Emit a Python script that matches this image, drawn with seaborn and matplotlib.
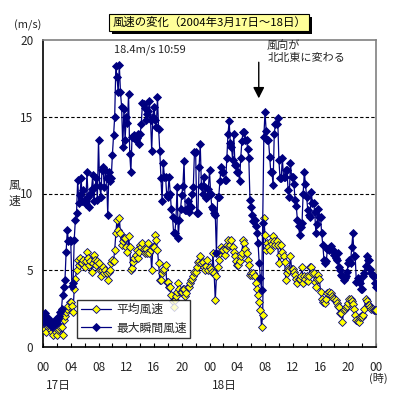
import numpy as np
import pandas as pd
import matplotlib
matplotlib.use("Agg")
import matplotlib.pyplot as plt
from matplotlib.patches import Rectangle
import seaborn as sns

# 10-minute steps from 00:00 on the 17th to 00:00 on the 19th
step_minutes = 10
gust = [
    1.6, 2.0, 2.2, 1.8, 1.9, 1.5,
    1.7, 1.65, 1.3, 1.5, 1.75, 1.6,
    1.55, 1.8, 2.0, 2.3, 2.5, 3.4,
    3.9, 4.35, 6.2, 7.6, 6.9, 7.0,
    6.9, 4.0, 4.15, 7.0, 8.3, 8.7,
    10.9, 9.4, 9.9, 11.0, 9.5, 10.2,
    9.6, 9.3, 11.4, 9.8, 9.1, 10.0,
    10.3, 11.2, 9.5, 10.4, 11.0, 9.6,
    13.5, 10.5, 9.8, 11.5, 11.7, 10.4,
    11.5, 11.0, 8.6, 11.4, 10.8, 11.0,
    12.5, 13.8, 15.0, 18.3, 17.6, 16.6,
    18.4, 16.6, 15.65, 13.0, 15.5, 13.5,
    15.0, 14.6, 16.5, 12.6, 11.4, 13.7,
    13.7, 13.8, 13.5, 13.6, 13.9, 13.2,
    13.9, 14.5, 15.9, 15.8, 15.6, 14.8,
    15.2, 15.4, 16.0, 14.8, 12.8, 15.0,
    15.65, 14.8, 14.35, 16.3, 14.2, 12.8,
    11.0, 9.5, 12.0, 11.1, 11.1, 9.9,
    9.8, 11.1, 10.0, 9.0, 8.5, 7.4,
    7.4, 8.3, 10.45, 7.1, 8.3, 9.0,
    9.9, 10.5, 12.1, 8.9, 8.9, 9.5,
    8.8, 9.2, 9.1, 10.0, 10.45, 12.7,
    12.7, 8.7, 8.7, 11.75, 13.2, 10.5,
    10.0, 11.1, 10.4, 9.7, 9.8, 10.3,
    11.5, 10.0, 9.1, 9.0, 8.7, 8.6,
    6.1, 9.8, 9.8, 10.8, 11.75, 11.4,
    11.4, 10.9, 10.9, 12.3, 13.9, 14.7,
    13.3, 13.05, 12.2, 13.9, 11.85, 11.85,
    11.4, 11.4, 10.8, 12.3, 13.4, 14.0,
    14.0, 13.5, 13.5, 12.9, 12.3, 9.6,
    9.1, 8.6, 8.2, 8.3, 7.9, 7.4,
    6.75, 5.45, 4.5, 3.7, 8.05, 13.7,
    15.3, 14.1, 13.5, 13.5, 12.4, 11.4,
    11.4, 10.55, 13.9, 14.5, 14.5, 14.9,
    12.2, 11.0, 11.0, 12.3, 11.1, 11.1,
    11.5, 11.5, 10.2, 9.8, 12.0, 11.1,
    11.1, 10.65, 9.6, 9.2, 8.3, 7.9,
    7.3, 7.8, 8.05, 10.0, 11.4, 10.6,
    9.8, 8.9, 8.6, 8.5, 10.1, 9.35,
    9.35, 8.8, 7.4, 8.0, 9.0, 8.5,
    8.5, 7.4, 6.65, 5.7, 5.45, 5.6,
    6.4, 6.3, 6.5, 6.6, 6.3, 6.3,
    6.0, 5.8, 5.65, 6.1, 5.2, 5.0,
    4.7, 4.6, 4.35, 4.5, 4.6, 4.9,
    5.45, 5.65, 5.5, 6.5, 7.4, 5.9,
    5.9, 4.25, 4.5, 4.3, 4.15, 3.8,
    3.8, 4.6, 4.8, 5.3, 5.9, 5.65,
    5.65, 5.1, 4.8, 4.6, 4.6, 4.2,
    3.9,
]
mean_speed = [
    1.4, 1.6, 1.2, 1.0, 1.3, 1.5,
    1.3, 1.1, 1.0, 0.8, 1.2, 1.0,
    0.8, 1.1, 1.2, 1.3, 1.3, 0.8,
    1.75, 2.0, 2.3, 2.5, 2.7, 2.95,
    2.95, 2.7, 2.3, 3.8, 4.45, 5.0,
    5.65, 5.35, 5.8, 5.5, 5.45, 5.65,
    5.2, 5.6, 6.2, 5.8, 5.35, 5.6,
    4.9, 5.5, 6.0, 5.7, 5.35, 5.6,
    5.5, 5.0, 4.6, 5.0, 5.2, 4.8,
    5.0, 4.8, 4.35, 4.9, 5.0, 5.45,
    5.65, 5.6, 6.3, 7.4, 8.3, 7.6,
    8.4, 7.4, 6.65, 6.9, 7.1, 7.1,
    6.5, 6.2, 7.2, 6.5, 5.0, 5.15,
    5.55, 5.8, 6.0, 6.3, 5.8, 6.2,
    6.65, 6.5, 6.75, 6.4, 6.1, 6.4,
    6.1, 6.75, 6.1, 6.3, 5.0, 6.5,
    6.5, 7.3, 7.0, 6.3, 5.45, 4.35,
    4.35, 4.8, 5.0, 5.1, 5.35, 4.25,
    4.25, 3.9, 3.9, 3.4, 3.0, 2.6,
    3.05, 3.3, 3.6, 4.15, 3.8, 3.6,
    3.6, 3.8, 3.8, 3.3, 3.5, 3.9,
    3.9, 4.15, 4.35, 4.4, 4.6, 4.9,
    4.9, 5.2, 5.55, 5.6, 5.9, 5.5,
    5.55, 5.2, 5.0, 5.3, 5.65, 5.0,
    5.2, 5.1, 4.9, 6.1, 4.8, 3.05,
    4.6, 5.2, 5.65, 6.1, 6.5, 6.3,
    6.3, 6.0, 6.4, 6.65, 7.0, 6.6,
    6.65, 7.0, 6.5, 6.2, 5.9, 5.6,
    5.35, 5.35, 5.6, 5.9, 6.1, 7.0,
    6.8, 6.4, 6.1, 5.7, 5.35, 4.7,
    4.8, 4.7, 4.8, 4.6, 4.2, 3.8,
    3.4, 2.95, 2.4, 1.3, 2.1, 8.4,
    7.3, 6.3, 6.8, 6.5, 6.3, 6.9,
    6.7, 7.2, 6.9, 6.65, 6.9, 6.65,
    5.45, 6.0, 6.65, 6.2, 5.9, 5.55,
    4.35, 4.8, 5.1, 5.0, 5.9, 5.1,
    5.1, 4.9, 4.7, 4.45, 4.15, 4.45,
    4.45, 4.6, 5.2, 4.15, 4.6, 4.4,
    4.6, 4.3, 4.6, 5.2, 5.2, 4.8,
    4.8, 4.25, 3.9, 4.4, 4.7, 4.45,
    3.6, 3.15, 2.95, 3.0, 2.85, 3.15,
    3.5, 3.6, 3.4, 3.5, 3.3, 3.2,
    3.1, 3.05, 2.85, 2.7, 2.6, 2.2,
    2.2, 1.65, 2.4, 2.5, 2.6, 2.7,
    2.85, 3.15, 3.15, 3.0, 2.8, 2.5,
    2.1, 1.75, 1.7, 1.65, 1.95, 2.0,
    1.95, 2.1, 2.5, 3.15, 3.0, 2.75,
    2.75, 2.6, 2.5, 2.5, 2.4, 2.4,
    2.4,
]
series_names = ["平均風速", "最大瞬間風速"]
tick_labels = ["00", "04", "08", "12", "16", "20", "00", "04", "08", "12", "16", "20", "00"]
day_labels = ["17日", "18日"]
title = "風速の変化（2004年3月17日～18日）"
peak_note = "18.4m/s 10:59"
wind_note = "風向が\n北北東に変わる"

hours = np.arange(len(gust)) * step_minutes / 60.0
df = pd.DataFrame({"hour": hours, "mean": mean_speed, "gust": gust})

sns.set_theme(style="white")
plt.rcParams["font.family"] = ["Noto Sans CJK JP", "DejaVu Sans"]

fig = plt.figure(figsize=(3.99, 3.99), dpi=100)
ax = fig.add_axes([43 / 399, 1 - 347 / 399, (376 - 43) / 399, (347 - 40) / 399])

navy = "#000080"
for y in (5, 10, 15):
    ax.axhline(y, color="black", lw=0.8, ls=(0, (3, 2)), zorder=1)

sns.lineplot(data=df, x="hour", y="mean", ax=ax, color=navy, lw=0.9,
             marker="D", markersize=3.8, markerfacecolor="#FFFF00",
             markeredgecolor=navy, markeredgewidth=0.6, label=series_names[0], zorder=3)
sns.lineplot(data=df, x="hour", y="gust", ax=ax, color=navy, lw=0.9,
             marker="D", markersize=3.8, markerfacecolor=navy,
             markeredgecolor=navy, markeredgewidth=0.6, label=series_names[1], zorder=4)

ax.set_xlim(0, 48)
ax.set_ylim(0, 20)
ax.set_xticks(np.arange(0, 49, 4))
ax.set_xticklabels(tick_labels, fontsize=8.5)
ax.set_xticks(np.arange(0, 49, 2), minor=True)
ax.tick_params(axis="x", which="both", direction="in", length=3, width=0.8,
               color="black", pad=10, bottom=True)
ax.set_yticks([0, 5, 10, 15, 20])
ax.set_yticklabels(["0", "5", "10", "15", "20"], fontsize=8.5)
ax.tick_params(axis="y", length=0, pad=7)
ax.set_xlabel("")
ax.set_ylabel("")

for side in ("left", "bottom"):
    ax.spines[side].set_color("black")
    ax.spines[side].set_linewidth(1.2)
for side in ("top", "right"):
    ax.spines[side].set_color("#808080")
    ax.spines[side].set_linewidth(1.2)

leg = ax.legend(loc="lower left", bbox_to_anchor=((77 - 43) / 333, (347 - 338) / 307),
                frameon=True, fancybox=False, fontsize=8.5, borderpad=0.3,
                handlelength=2.6, labelspacing=0.45, handletextpad=0.4, borderaxespad=0)
leg.get_frame().set_edgecolor("black")
leg.get_frame().set_linewidth(1.0)
for h in leg.get_lines():
    h.set_markersize(4.5)

# annotations
ax.text(15.4, 19.35, peak_note, fontsize=8, ha="center", va="center")
ax.text(32.3, 19.25, wind_note, fontsize=8, ha="left", va="center", linespacing=1.25)
ax.annotate("", xy=(31.1, 16.2), xytext=(31.1, 18.55),
            arrowprops=dict(arrowstyle="-|>,head_length=0.55,head_width=0.28",
                            color="black", lw=1, shrinkA=0, shrinkB=0))

# title box with drop shadow
tx, ty = 209 / 399, 1 - 22.5 / 399
ttl = fig.text(tx, ty, title, fontsize=8.2, ha="center", va="center", color="black", zorder=5,
               bbox=dict(boxstyle="square,pad=0.3", facecolor="#FFFF99", edgecolor="black", lw=0.8))
fig.canvas.draw()
bb = ttl.get_bbox_patch().get_window_extent()
fig.patches.append(Rectangle((bb.x0 + 3, bb.y0 - 3), bb.width, bb.height,
                             transform=None, facecolor="black", edgecolor="none", zorder=1))

fig.text(28 / 399, 1 - 25 / 399, "(m/s)", fontsize=8, ha="center", va="center")
fig.text(14 / 399, 1 - 193 / 399, "風\n速", fontsize=8.5, ha="center", va="center", linespacing=1.3)
fig.text(58 / 399, 1 - 385 / 399, day_labels[0], fontsize=8.5, ha="center", va="center")
fig.text(224 / 399, 1 - 385 / 399, day_labels[1], fontsize=8.5, ha="center", va="center")
fig.text(378 / 399, 1 - 378 / 399, "(時)", fontsize=8, ha="center", va="center")

fig.savefig("out.png", dpi=100, facecolor="white")
